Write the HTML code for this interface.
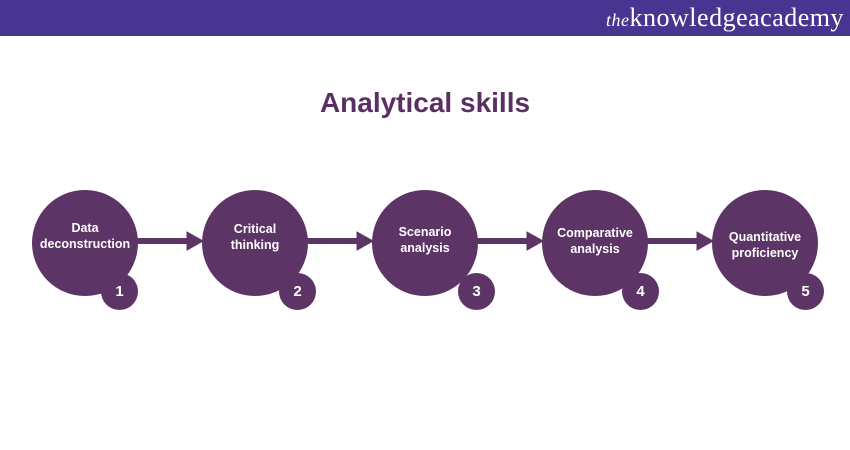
<!DOCTYPE html>
<html><head><style>
body{margin:0;width:850px;height:450px;background:#fff;position:relative;overflow:hidden;font-family:"Liberation Sans",sans-serif}
.hdr{position:absolute;left:0;top:0;width:850px;height:36px;background:#483591}
.logo{position:absolute;right:6px;top:3px;color:#fff;font-family:"Liberation Serif",serif;font-size:26px;letter-spacing:0.5px}
.logo i{font-size:18px}
h1{position:absolute;top:87px;left:0;width:850px;text-align:center;margin:0;font-size:28px;font-weight:bold;color:#5b2f63}
.c{position:absolute;width:106px;height:106px;border-radius:50%;background:#5d3466;color:#fff;font-weight:bold;font-size:12.5px;text-align:center;line-height:16px;display:flex;justify-content:center;box-sizing:border-box}
.n{position:absolute;width:37px;height:37px;border-radius:50%;background:#5d3466;color:#fff;font-weight:bold;font-size:15px;text-align:center;line-height:37px}
</style></head><body>
<div class="hdr"><div class="logo"><i>the</i>knowledgeacademy</div></div>
<h1>Analytical skills</h1>
<svg width="850" height="450" style="position:absolute;left:0;top:0">
<g fill="#5d3466" stroke="#5d3466">
<line x1="135" y1="241" x2="190" y2="241" stroke-width="6"/><polygon points="187,232 203,241 187,250"/>
<line x1="305" y1="241" x2="360" y2="241" stroke-width="6"/><polygon points="357,232 373,241 357,250"/>
<line x1="475" y1="241" x2="530" y2="241" stroke-width="6"/><polygon points="527,232 543,241 527,250"/>
<line x1="645" y1="241" x2="700" y2="241" stroke-width="6"/><polygon points="697,232 713,241 697,250"/>
</g></svg>
<div class="c" style="left:32px;top:190px;padding-top:30px">Data<br>deconstruction</div>
<div class="c" style="left:202px;top:190px;padding-top:31px">Critical<br>thinking</div>
<div class="c" style="left:372px;top:190px;padding-top:34px">Scenario<br>analysis</div>
<div class="c" style="left:542px;top:190px;padding-top:35px">Comparative<br>analysis</div>
<div class="c" style="left:712px;top:190px;padding-top:39px">Quantitative<br>proficiency</div>
<div class="n" style="left:101px;top:273px">1</div>
<div class="n" style="left:279px;top:273px">2</div>
<div class="n" style="left:458px;top:273px">3</div>
<div class="n" style="left:622px;top:273px">4</div>
<div class="n" style="left:787px;top:273px">5</div>
</body></html>
